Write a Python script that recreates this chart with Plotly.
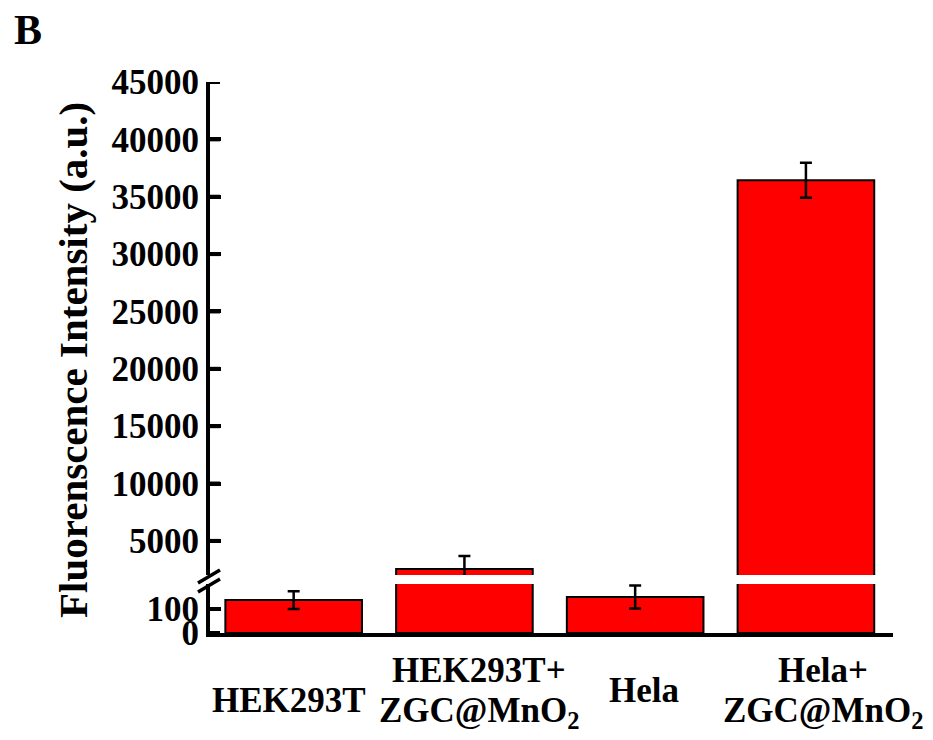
import plotly.graph_objects as go

# Fluorescence intensity per sample group (mean and standard deviation)
groups = ["HEK293T", "HEK293T+ZGC@MnO2", "Hela", "Hela+ZGC@MnO2"]
intensity = [137, 2550, 150, 36430]
intensity_sd = [37, 1130, 48, 1530]

# Category label lines under each bar
label_top = ["", "HEK293T+", "", "Hela+"]
label_bottom = ["HEK293T", "ZGC@MnO<sub>2</sub>", "Hela", "ZGC@MnO<sub>2</sub>"]

# Broken y-axis: lower and upper segments
lower_range = [0, 204]
upper_range = [2028, 45000]
lower_ticks = [0, 100]
upper_ticks = [5000, 10000, 15000, 20000, 25000, 30000, 35000, 40000, 45000]

W, H = 933, 740
ML, MR, MT, MB = 210, 40, 82, 107
PW, PH = W - ML - MR, H - MT - MB


def px_x(x):
    return (x - ML) / PW


def px_y(y):
    return (H - MB - y) / PH


FONT = "Liberation Serif"
tickfont = dict(family=FONT, size=35, color="black", weight="bold")

bar_style = dict(
    marker=dict(color="#FF0000", line=dict(color="black", width=2)),
    error_y=dict(type="data", array=intensity_sd, visible=True,
                 color="black", thickness=2.5, width=6),
    showlegend=False,
)

xs = list(range(len(groups)))
x_range = [-0.49, 3.51]

fig = go.Figure()
fig.add_trace(go.Bar(x=xs, y=intensity, xaxis="x", yaxis="y", **bar_style))
fig.add_trace(go.Bar(x=xs, y=intensity, xaxis="x2", yaxis="y2", **bar_style))

axis_common = dict(
    showline=True, linecolor="black", linewidth=4,
    ticks="inside", ticklen=11, tickwidth=4, tickcolor="black",
    tickfont=tickfont, showgrid=False, zeroline=False,
    tickmode="array",
)

fig.update_layout(
    template="none",
    width=W, height=H,
    margin=dict(l=ML, r=MR, t=MT, b=MB),
    paper_bgcolor="white", plot_bgcolor="rgba(0,0,0,0)",
    bargap=0.2,
    xaxis=dict(range=x_range, showline=True, linecolor="black",
               linewidth=4, showticklabels=False, ticks="",
               showgrid=False, zeroline=False, anchor="y"),
    xaxis2=dict(range=x_range, matches="x", visible=False, anchor="y2",
                showgrid=False, zeroline=False),
    yaxis=dict(domain=[0, px_y(584)], range=lower_range, anchor="x",
               tickvals=lower_ticks,
               ticktext=[str(v) for v in lower_ticks], **axis_common),
    yaxis2=dict(domain=[px_y(575), 1], range=upper_range, anchor="x2",
                tickvals=upper_ticks,
                ticktext=[str(v) for v in upper_ticks], **axis_common),
)

annotations = []
# Axis title
annotations.append(dict(
    text="Fluorenscence Intensity (a.u.)", textangle=-90,
    xref="paper", yref="paper", x=px_x(73), y=px_y(360),
    xanchor="center", yanchor="middle", showarrow=False,
    font=dict(family=FONT, size=41, color="black", weight="bold"),
))
# Panel letter
annotations.append(dict(
    text="B", xref="paper", yref="paper", x=px_x(12), y=px_y(30),
    xanchor="left", yanchor="middle", showarrow=False,
    font=dict(family=FONT, size=42, color="black", weight="bold"),
))

# Category labels
label_shift = [-5, 15, 9, 17]
single_y = [700, None, 690, None]
for i in xs:
    if label_top[i]:
        annotations.append(dict(
            text=label_top[i], xref="x", yref="paper", x=i, xshift=label_shift[i],
            y=px_y(670), xanchor="center", yanchor="middle", showarrow=False,
            font=tickfont,
        ))
        annotations.append(dict(
            text=label_bottom[i], xref="x", yref="paper", x=i, xshift=label_shift[i],
            y=px_y(712), xanchor="center", yanchor="middle", showarrow=False,
            font=tickfont,
        ))
    else:
        annotations.append(dict(
            text=label_bottom[i], xref="x", yref="paper", x=i, xshift=label_shift[i],
            y=px_y(single_y[i]), xanchor="center", yanchor="middle", showarrow=False,
            font=tickfont,
        ))

fig.update_layout(annotations=annotations)

# Reinforced y-axis spine and inward tick marks for both segments
spine = dict(color="black", width=4)
for yref in ["y domain", "y2 domain"]:
    fig.add_shape(type="line", layer="above", xref="paper", yref=yref,
                  x0=px_x(208), x1=px_x(208), y0=0, y1=1, line=spine)
for yref, ticks in [("y", lower_ticks), ("y2", upper_ticks)]:
    for v in ticks:
        fig.add_shape(type="line", layer="above", xref="paper", yref=yref,
                      x0=px_x(208), x1=px_x(220), y0=v, y1=v, line=spine)

# Axis break marks
for (x0, y0, x1, y1) in [(198, 583, 220, 570), (198, 592, 220, 579)]:
    fig.add_shape(type="line", xref="paper", yref="paper",
                  x0=px_x(x0), y0=px_y(y0), x1=px_x(x1), y1=px_y(y1),
                  line=dict(color="black", width=3.5))

fig.write_html("out.html")
